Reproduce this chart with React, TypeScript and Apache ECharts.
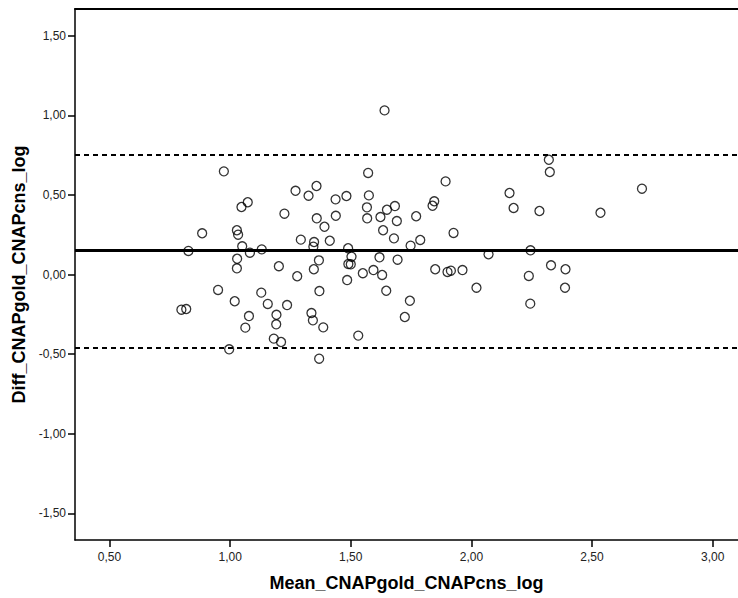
import React, { useEffect, useRef } from "react";
import * as echarts from "echarts";

// Bland-Altman data: mean (x) and difference (y) of log values
const meanValues: number[] = [
  0.974, 1.271, 1.325, 1.073, 1.047, 1.225, 0.884, 1.028, 1.033, 1.293,
  1.050, 0.827, 1.082, 1.131, 1.029, 1.028, 1.202, 1.278, 0.950, 1.129,
  1.019, 1.156, 1.236, 0.798, 0.818, 1.078, 1.192, 1.063, 1.191, 1.181,
  1.211, 0.996, 1.640, 1.572, 1.893, 2.158, 2.175, 1.358, 1.437, 1.482,
  1.575, 1.567, 1.568, 1.650, 1.683, 1.623, 1.691, 1.771, 1.846, 1.839,
  1.438, 1.359, 1.391, 1.634, 1.679, 1.788, 1.748, 1.926, 1.413, 1.348,
  1.345, 1.489, 2.071, 1.503, 1.368, 1.619, 1.694, 1.490, 1.500, 1.347,
  1.550, 1.594, 1.630, 1.850, 1.901, 1.915, 1.963, 1.485, 1.370, 1.647,
  2.021, 1.745, 1.337, 1.343, 1.386, 1.724, 1.531, 1.369, 2.321, 2.325,
  2.282, 2.535, 2.707, 2.245, 2.330, 2.390, 2.238, 2.388, 2.244,
];
const diffValues: number[] = [
  0.648, 0.526, 0.495, 0.454, 0.424, 0.382, 0.259, 0.278, 0.250, 0.219,
  0.177, 0.148, 0.137, 0.158, 0.099, 0.039, 0.052, -0.011, -0.097, -0.114,
  -0.168, -0.185, -0.192, -0.221, -0.217, -0.261, -0.253, -0.334, -0.313, -0.403,
  -0.424, -0.470, 1.031, 0.638, 0.585, 0.512, 0.418, 0.556, 0.472, 0.493,
  0.497, 0.422, 0.353, 0.407, 0.430, 0.361, 0.336, 0.366, 0.460, 0.432,
  0.369, 0.353, 0.300, 0.278, 0.227, 0.217, 0.181, 0.261, 0.212, 0.204,
  0.175, 0.165, 0.127, 0.112, 0.089, 0.108, 0.093, 0.066, 0.064, 0.033,
  0.008, 0.028, -0.003, 0.033, 0.016, 0.024, 0.028, -0.035, -0.104, -0.102,
  -0.083, -0.165, -0.242, -0.288, -0.332, -0.267, -0.384, -0.529, 0.721, 0.644,
  0.399, 0.388, 0.539, 0.152, 0.058, 0.033, -0.009, -0.083, -0.183,
];

const meanDiff = 0.146;
const upperLimit = 0.746;
const lowerLimit = -0.455;

const xTicks: number[] = [0.5, 1.0, 1.5, 2.0, 2.5, 3.0];
const yTicks: number[] = [-1.5, -1.0, -0.5, 0.0, 0.5, 1.0, 1.5];

const xTitle = "Mean_CNAPgold_CNAPcns_log";
const yTitle = "Diff_CNAPgold_CNAPcns_log";

const fmt = (v: number) => v.toFixed(2).replace(".", ",");

export default function App() {
  const ref = useRef<HTMLDivElement>(null);

  useEffect(() => {
    if (!ref.current) return;
    const chart = echarts.init(ref.current, null, { renderer: "svg" });
    const points = meanValues.map((m, i) => [m, diffValues[i]]);
    const font = "Arial, 'Liberation Sans', Helvetica, sans-serif";
    chart.setOption({
      animation: false,
      backgroundColor: "#ffffff",
      grid: { left: 75, right: 0, top: 9, bottom: 58 },
      xAxis: [
        {
          type: "value",
          min: 0.357,
          max: 3.105,
          name: xTitle,
          nameLocation: "middle",
          nameGap: 34,
          nameTextStyle: { fontFamily: font, fontWeight: "bold", fontSize: 18, color: "#000" },
          axisLine: { show: true, onZero: false, lineStyle: { color: "#000", width: 1.5 } },
          axisTick: { show: true, length: 7, customValues: xTicks, lineStyle: { color: "#000", width: 1.5 } },
          axisLabel: {
            customValues: xTicks,
            formatter: (v: number) => fmt(v),
            fontFamily: font,
            fontSize: 12,
            color: "#222",
            margin: 11,
          },
          splitLine: { show: false },
        },
        {
          type: "value",
          position: "top",
          min: 0.357,
          max: 3.105,
          axisLine: { show: true, onZero: false, lineStyle: { color: "#000", width: 2 } },
          axisTick: { show: false },
          axisLabel: { show: false },
          splitLine: { show: false },
        },
      ],
      yAxis: {
        type: "value",
        min: -1.668,
        max: 1.668,
        name: yTitle,
        nameLocation: "middle",
        nameGap: 44,
        nameTextStyle: { fontFamily: font, fontWeight: "bold", fontSize: 18, color: "#000" },
        axisLine: { show: true, onZero: false, lineStyle: { color: "#000", width: 1.5 } },
        axisTick: { show: true, length: 7, customValues: yTicks, lineStyle: { color: "#000", width: 1.5 } },
        axisLabel: {
          customValues: yTicks,
          formatter: (v: number) => fmt(v),
          fontFamily: font,
          fontSize: 12,
          color: "#222",
          margin: 9,
        },
        splitLine: { show: false },
      },
      series: [
        {
          type: "scatter",
          xAxisIndex: 0,
          data: points,
          symbol: "circle",
          symbolSize: 9,
          itemStyle: { color: "transparent", borderColor: "#000", borderWidth: 1.3 },
          markLine: {
            silent: true,
            symbol: "none",
            label: { show: false },
            emphasis: { disabled: true },
            data: [
              { yAxis: upperLimit, lineStyle: { color: "#000", width: 2.2, type: [5, 4] } },
              { yAxis: meanDiff, lineStyle: { color: "#000", width: 3, type: "solid" } },
              { yAxis: lowerLimit, lineStyle: { color: "#000", width: 2.2, type: [5, 4] } },
            ],
          },
        },
      ],
    });
    return () => chart.dispose();
  }, []);

  return (
    <div
      ref={ref}
      style={{ position: "fixed", left: 0, top: 0, width: 738, height: 598, background: "#fff" }}
    />
  );
}
